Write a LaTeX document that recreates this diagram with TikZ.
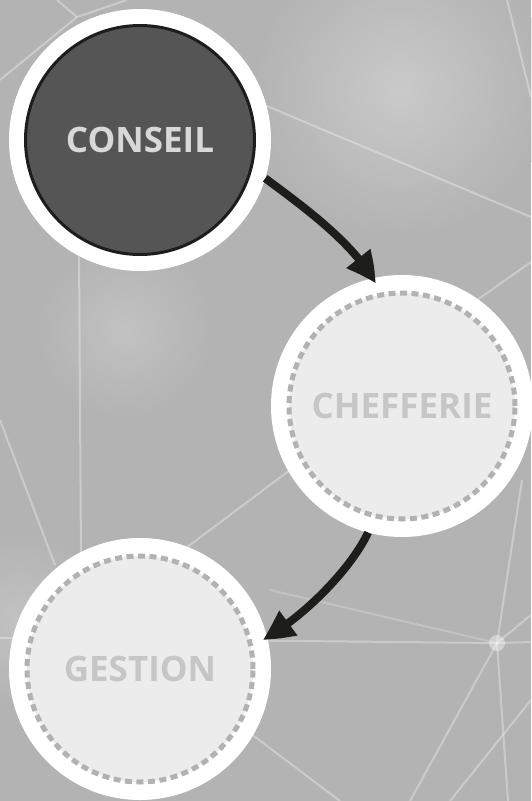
\documentclass[tikz,border=0pt]{standalone}
\usepackage{fontspec}
\setmainfont{Open Sans}
\usetikzlibrary{arrows.meta,bending}
\definecolor{bg}{HTML}{B3B3B3}
\definecolor{ring}{HTML}{FFFFFF}
\definecolor{darkfill}{HTML}{555555}
\definecolor{ink}{HTML}{1D1D1B}
\definecolor{lightfill}{HTML}{ECECEC}
\definecolor{dashgray}{HTML}{B2B2B2}
\definecolor{textlight}{HTML}{D8D8D8}
\definecolor{textgray}{HTML}{C6C6C6}
\tikzset{
  netline/.style={draw=white, line width=2pt, opacity=0.32},
  outerring/.style={circle, fill=ring, minimum size=262pt, inner sep=0pt, outer sep=0pt},
  activecore/.style={circle, fill=darkfill, draw=ink, line width=3pt, minimum size=229pt, inner sep=0pt,
    text=textlight, font=\bfseries\fontsize{35}{40}\selectfont},
  idlecore/.style={circle, fill=lightfill, draw=dashgray, line width=5pt, dash pattern=on 7pt off 4.5pt,
    minimum size=226pt, inner sep=0pt, text=textgray, font=\bfseries\fontsize{35}{40}\selectfont},
  flow/.style={draw=ink, line width=8pt, -{Triangle[length=30pt,width=29pt,bend]}}
}
\begin{document}
\begin{tikzpicture}[x=1pt,y=-1pt]
\useasboundingbox (0,0) rectangle (531,801);
\fill[bg] (0,0) rectangle (531,801);
\shade[inner color=white, outer color=bg, opacity=0.3] (400,90) circle (150);
\shade[inner color=white, outer color=bg, opacity=0.2] (125,330) circle (90);
\shade[inner color=white, outer color=bg, opacity=0.2] (20,620) circle (90);
% network lines
\draw[netline] (0,80) -- (77,17) -- (127,0);
\draw[netline] (57,0) -- (77,17);
\draw[netline] (200,78) -- (531,217);
\draw[netline] (507,0) -- (531,97);
\draw[netline] (470,305) -- (531,262);
\draw[netline] (79,250) -- (81,560);
\draw[netline] (150,575) -- (330,440);
\draw[netline] (0,638) -- (497,643) -- (531,642);
\draw[netline] (497,643) -- (522,480);
\draw[netline] (497,643) -- (410,801);
\draw[netline] (497,643) -- (508,801);
\draw[netline] (497,643) -- (531,615);
\draw[netline] (450,801) -- (531,700);
\draw[netline] (230,718) -- (340,801);
\draw[netline] (0,420) -- (55,565);
\draw[netline, opacity=0.2] (270,590) -- (497,643);
\fill[white, opacity=0.4] (497,643) circle (8);
% nodes
\node[outerring] (conseil) at (140,140) {};
\node[activecore] (conseilcore) at (conseil) {CONSEIL};
\node[outerring] (chef) at (402,406) {};
\node[idlecore] (chefcore) at (chef) {CHEFFERIE};
\node[outerring] (gest) at (140,669) {};
\node[idlecore] (gestcore) at (gest) {GESTION};
% connectors
\draw[flow, shorten >=-6pt] (conseil.-17) .. controls +(32,24) and +(-23,-39) .. (chef.103);
\draw[flow, shorten >=-5pt] (chef.-105) .. controls +(-17,36) and +(39,-23) .. (gest.14);
\end{tikzpicture}
\end{document}
